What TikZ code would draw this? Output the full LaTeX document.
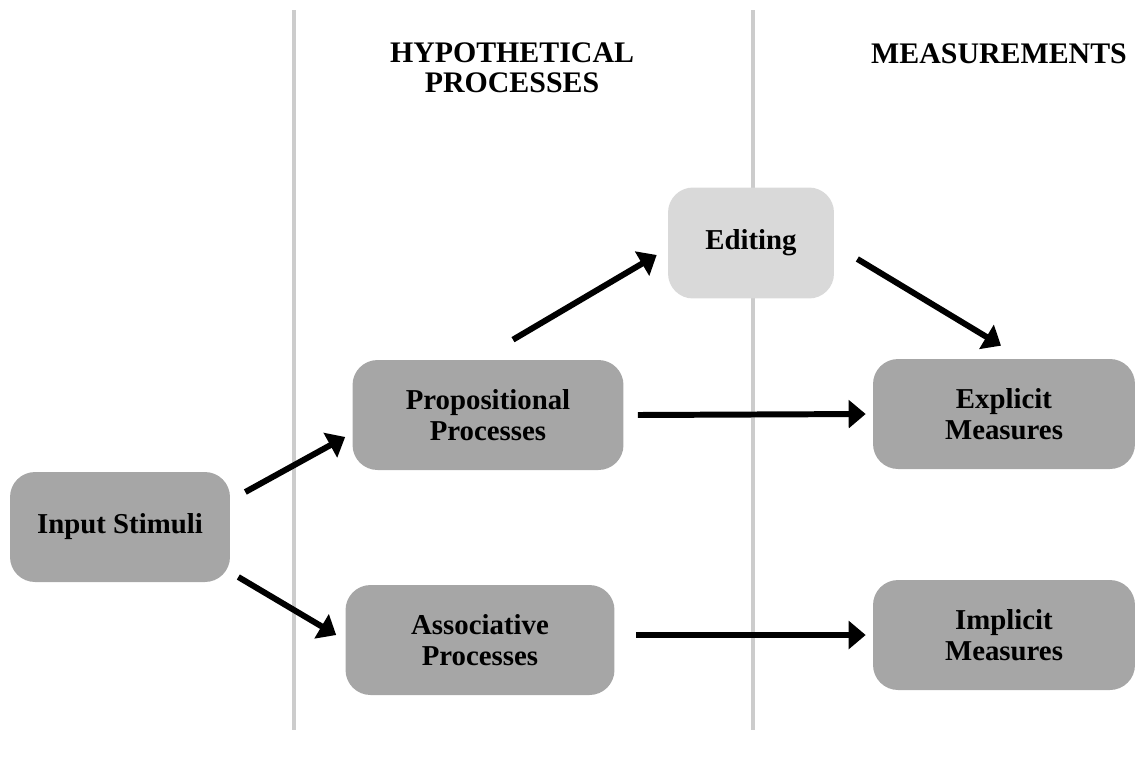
\documentclass[tikz,border=0pt]{standalone}
\usepackage{fontspec}
\setmainfont{Liberation Serif}
\usepackage{tikz}
\usetikzlibrary{arrows.meta}
\usetikzlibrary{positioning}
\usetikzlibrary{calc}
\definecolor{boxgray}{HTML}{A6A6A6}
\definecolor{editgray}{HTML}{D9D9D9}
\definecolor{rulegray}{HTML}{CCCCCC}
\tikzset{basic box/.style={rounded corners=0.5cm, inner sep=0pt, align=center,
                           font=\fontsize{16.4}{17.6}\selectfont\bfseries}}
\tikzset{process/.style={basic box, fill=boxgray, minimum height=2.2cm}}
\tikzset{arrow/.style={draw,
                       line width=3.4pt,
                       -{Triangle[length=0.34cm,width=0.55cm]}}}

\begin{document}
\begin{tikzpicture}
    [
      x=0.02cm, y=-0.02cm,
      heading/.style = {align=center, font=\fontsize{17}{17}\selectfont\bfseries},
    ]
    \useasboundingbox (0,0) rectangle (1135,758);

    % column dividers
    \draw [rulegray, line width=2.2pt] (294,10) -- (294,730);
    \draw [rulegray, line width=2.2pt] (753,10) -- (753,730);

    % headings
    \node [heading] (hyphead) at (512,68) {HYPOTHETICAL\\PROCESSES};
    \node [heading, anchor=base] (meashead) at (999,63) {MEASUREMENTS};

    % boxes
    \node [process, minimum width=4.4cm] (input) at (120,527) {Input Stimuli};
    \node [process, minimum width=5.42cm] (prop) at (488,415) {Propositional\\Processes};
    \node [process, minimum width=5.38cm] (assoc) at (480,640) {Associative\\Processes};
    \node [basic box, fill=editgray, minimum width=3.32cm, minimum height=2.22cm] (edit) at (751,243) {Editing};
    \node [process, minimum width=5.24cm] (explicit) at (1004,414) {Explicit\\Measures};
    \node [process, minimum width=5.24cm] (implicit) at (1004,635) {Implicit\\Measures};

    % arrows
    \draw [arrow] ($(input.east)+(15,-35)$) -- ($(prop.west)+(-7,22)$);
    \draw [arrow] ($(input.east)+(8,50)$) -- ($(assoc.west)+(-9,-5)$);
    \draw [arrow] ($(prop.north)+(25,-20)$) -- ($(edit.west)+(-11,12)$);
    \draw [arrow] ($(edit.east)+(23,16)$) -- ($(explicit.north)+(-3,-13)$);
    \draw [arrow] ($(prop.east)+(14,0)$) -- ($(explicit.west)+(-7,0)$);
    \draw [arrow] ($(assoc.east)+(21,-5)$) -- ($(implicit.west)+(-7,0)$);

  \end{tikzpicture}
\end{document}
